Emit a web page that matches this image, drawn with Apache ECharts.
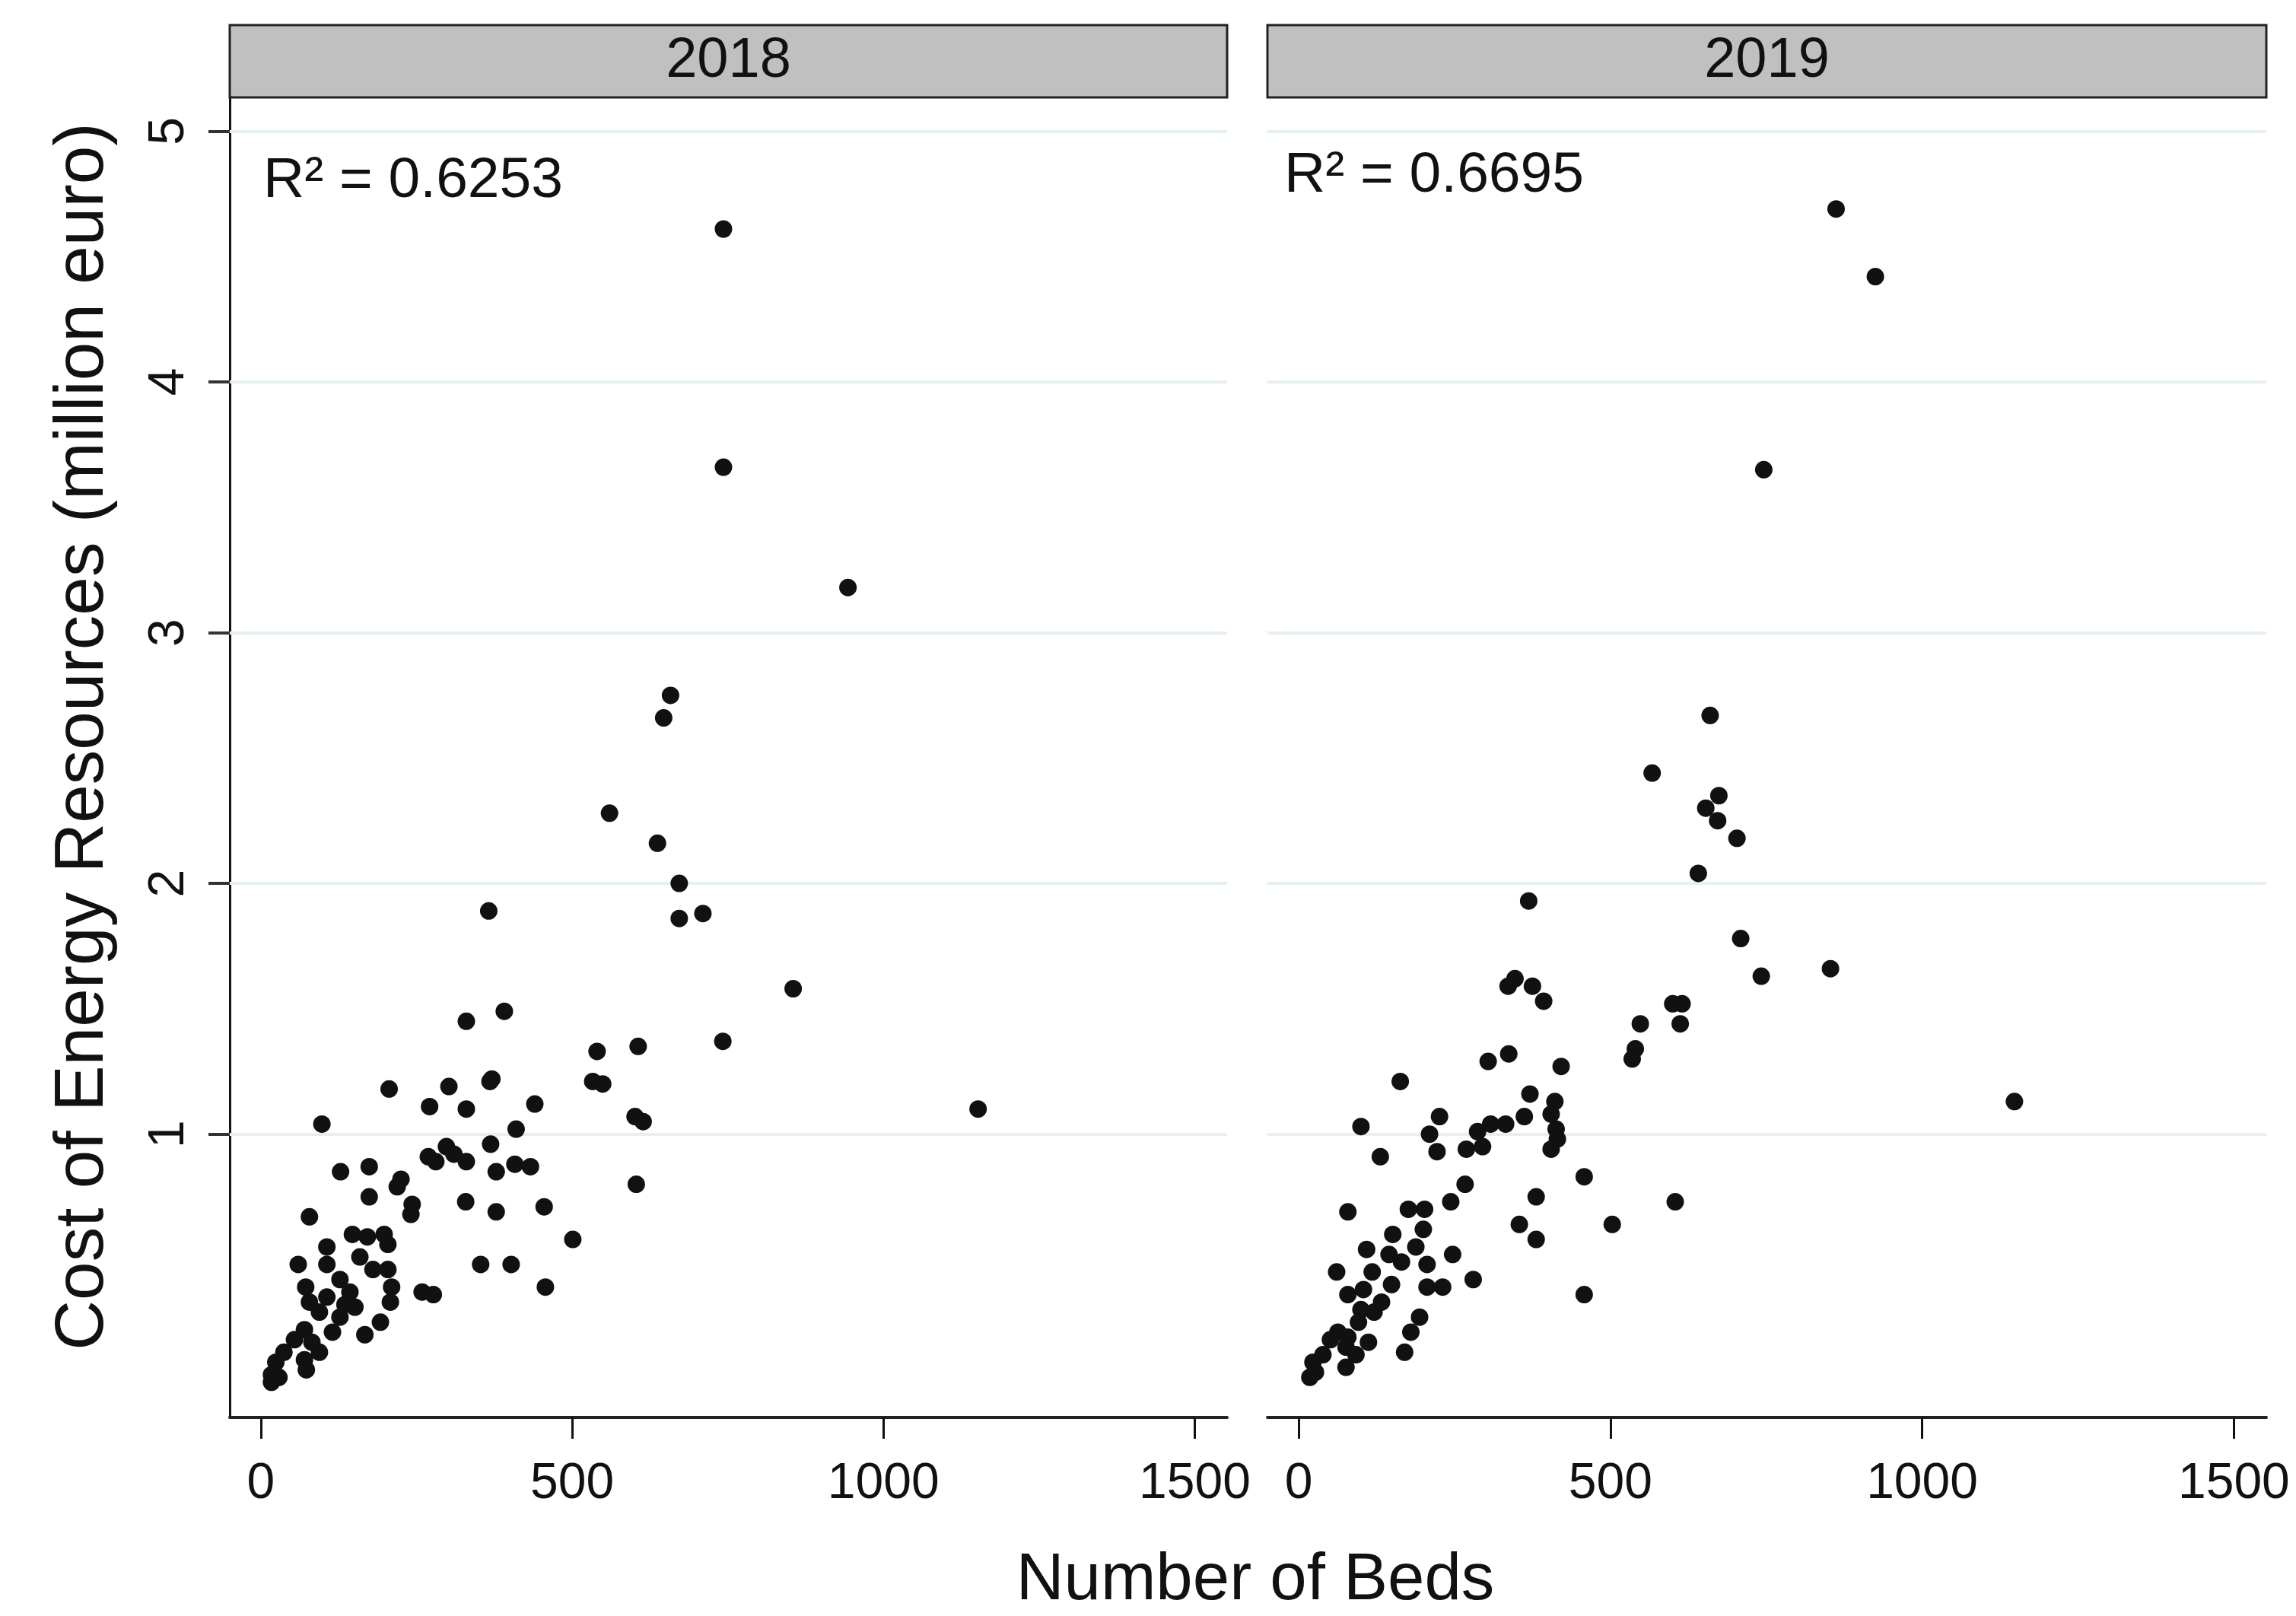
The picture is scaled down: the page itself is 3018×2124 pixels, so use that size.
<!DOCTYPE html>
<html>
<head>
<meta charset="utf-8">
<script src="https://cdn.jsdelivr.net/npm/echarts@6/dist/echarts.min.js"></script>
<style>
html,body{margin:0;padding:0;background:#fff;}
#chart{width:3018px;height:2124px;}
</style>
</head>
<body>
<div id="chart"></div>
<script>
// ---- data ----
const panelTitles = ['2018', '2019'];
const r2Labels = ['R\u00B2 = 0.6253', 'R\u00B2 = 0.6695'];
const xTicks = [0, 500, 1000, 1500];
const yTicks = [1, 2, 3, 4, 5];
const xTitle = 'Number of Beds';
const yTitle = 'Cost of Energy Resources (million euro)';

const beds2018 = [
  743,743,943,658,647,560,637,672,672,710,366,855,742,540,606,533,549,601,614,1152,603,
  330,391,206,302,371,368,271,330,440,98,410,369,298,269,281,310,330,378,408,433,128,174,
  225,219,174,243,241,329,378,455,78,501,147,171,198,204,106,159,353,402,60,106,180,204,
  127,210,72,457,259,277,143,78,106,151,208,94,127,192,167,70,115,54,82,37,70,24,17,17,
  73,94,29,135
];
const cost2018 = [
  4.61,3.66,3.18,2.75,2.66,2.28,2.16,2.00,1.86,1.88,1.89,1.58,1.37,1.33,1.35,1.21,1.20,1.07,1.05,1.10,0.80,
  1.45,1.49,1.18,1.19,1.22,1.21,1.11,1.10,1.12,1.04,1.02,0.96,0.95,0.91,0.89,0.92,0.89,0.85,0.88,0.87,0.85,0.87,
  0.82,0.79,0.75,0.72,0.68,0.73,0.69,0.71,0.67,0.58,0.60,0.59,0.60,0.56,0.55,0.51,0.48,0.48,0.48,0.48,0.46,0.46,
  0.42,0.39,0.39,0.39,0.37,0.36,0.37,0.33,0.35,0.31,0.33,0.29,0.27,0.25,0.20,0.22,0.21,0.18,0.17,0.13,0.10,0.09,0.04,0.01,
  0.06,0.13,0.03,0.32
];
const beds2019 = [
  862,925,746,660,567,674,653,672,703,641,369,709,742,853,600,615,548,612,540,535,1148,604,503,
  336,347,375,393,304,337,421,163,371,411,362,405,413,415,405,332,308,287,295,269,226,210,222,
  100,131,458,267,381,244,176,202,79,354,381,200,151,188,109,145,165,247,206,61,280,118,149,206,
  231,79,104,133,100,458,194,121,96,180,63,79,112,170,39,76,76,23,18,27,92,51
];
const cost2019 = [
  4.69,4.42,3.65,2.67,2.44,2.35,2.30,2.25,2.18,2.04,1.93,1.78,1.63,1.66,1.52,1.52,1.44,1.44,1.34,1.30,1.13,0.73,0.64,
  1.59,1.62,1.59,1.53,1.29,1.32,1.27,1.21,1.16,1.13,1.07,1.08,1.02,0.98,0.94,1.04,1.04,1.01,0.95,0.94,1.07,1.00,0.93,
  1.03,0.91,0.83,0.80,0.75,0.73,0.70,0.70,0.69,0.64,0.58,0.62,0.60,0.55,0.54,0.52,0.49,0.52,0.48,0.45,0.42,0.45,0.40,0.39,
  0.39,0.36,0.38,0.33,0.30,0.36,0.27,0.29,0.25,0.21,0.21,0.19,0.17,0.13,0.12,0.15,0.07,0.09,0.03,0.05,0.12,0.18
];

// ---- layout ----
const FONT = 'Liberation Sans, Arial, sans-serif';
const grids = [
  {left: 302, top: 128, width: 1311, height: 1735},
  {left: 1666, top: 128, width: 1313, height: 1735}
];
const X_MIN = -50, X_MAX = 1552, Y_MIN = -0.13, Y_MAX = 5.135;

function zip(a, b) { return a.map((v, i) => [v, b[i]]); }

const chart = echarts.init(document.getElementById('chart'));

const xAxes = grids.map((g, i) => ({
  type: 'value', gridIndex: i, min: X_MIN, max: X_MAX,
  axisLine: {show: true, onZero: false, lineStyle: {color: '#222', width: 4}},
  axisTick: {show: true, length: 28, lineStyle: {color: '#111', width: 3}, customValues: xTicks},
  axisLabel: {show: true, customValues: xTicks, margin: 55, fontSize: 66, color: '#111', fontFamily: FONT,
              formatter: v => String(v)},
  splitLine: {show: false}
}));

const yAxes = grids.map((g, i) => ({
  type: 'value', gridIndex: i, min: Y_MIN, max: Y_MAX, show: i === 0,
  axisLine: {show: i === 0, onZero: false, lineStyle: {color: '#111', width: 3}},
  axisTick: {show: i === 0, length: 28, lineStyle: {color: '#333', width: 4}, customValues: yTicks},
  axisLabel: {show: i === 0, customValues: yTicks, rotate: 90, margin: 46, fontSize: 66, color: '#111', fontFamily: FONT,
              formatter: v => String(v)},
  splitLine: {show: false}
}));

const datasets = [zip(beds2018, cost2018), zip(beds2019, cost2019)];

const series = [];
grids.forEach((g, i) => {
  series.push({
    type: 'scatter', xAxisIndex: i, yAxisIndex: i, data: [], z: 1, silent: true,
    markLine: {
      silent: true, symbol: 'none', animation: false,
      label: {show: false},
      lineStyle: {color: '#e6eff1', width: 4, type: 'solid'},
      data: yTicks.map(v => ({yAxis: v}))
    }
  });
  series.push({
    type: 'scatter', xAxisIndex: i, yAxisIndex: i, z: 5,
    symbol: 'circle', symbolSize: 23,
    itemStyle: {color: '#111', opacity: 1},
    data: datasets[i], animation: false
  });
});

const graphic = [];
grids.forEach((g, i) => {
  graphic.push({
    type: 'rect', shape: {x: g.left, y: 33, width: g.width, height: 95},
    style: {fill: '#c0c0c0', stroke: '#222', lineWidth: 3}, z: 10
  });
  graphic.push({
    type: 'text', x: g.left + g.width / 2, y: 81, z: 11,
    style: {text: panelTitles[i], fontSize: 74, fontFamily: FONT, fill: '#111',
            textAlign: 'center', textVerticalAlign: 'middle'}
  });
});
graphic.push({
  type: 'text', x: 346, y: 238, z: 11,
  style: {text: r2Labels[0], fontSize: 75, fontFamily: FONT, fill: '#111', textAlign: 'left', textVerticalAlign: 'middle'}
});
graphic.push({
  type: 'text', x: 1688, y: 231, z: 11,
  style: {text: r2Labels[1], fontSize: 75, fontFamily: FONT, fill: '#111', textAlign: 'left', textVerticalAlign: 'middle'}
});
graphic.push({
  type: 'text', x: 110, y: 968, rotation: Math.PI / 2, z: 11,
  style: {text: yTitle, fontSize: 91, fontFamily: FONT, fill: '#111', textAlign: 'center', textVerticalAlign: 'middle'}
});
graphic.push({
  type: 'text', x: 1650, y: 2078, z: 11,
  style: {text: xTitle, fontSize: 87, fontFamily: FONT, fill: '#111', textAlign: 'center', textVerticalAlign: 'middle'}
});

chart.setOption({
  backgroundColor: '#ffffff',
  animation: false,
  grid: grids.map(g => Object.assign({containLabel: false}, g)),
  xAxis: xAxes,
  yAxis: yAxes,
  series: series,
  graphic: graphic
});
</script>
</body>
</html>
